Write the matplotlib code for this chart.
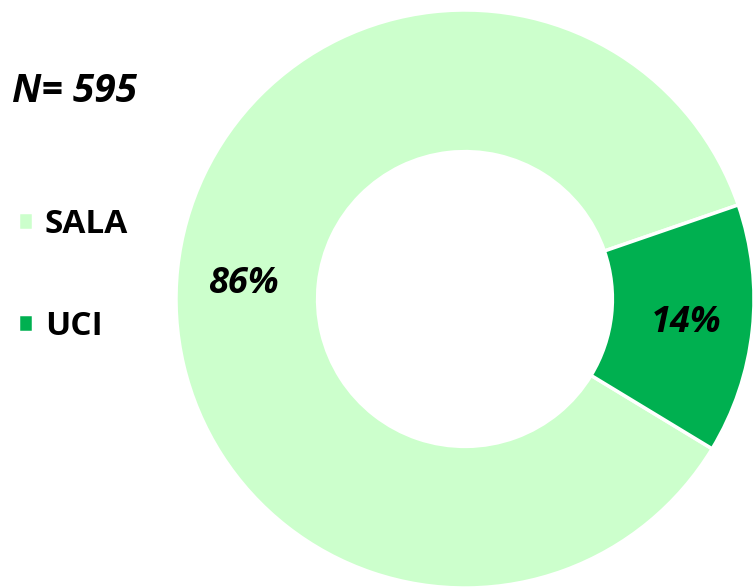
import matplotlib.pyplot as plt

# datos
categorias = ['SALA', 'UCI']
pacientes = [512, 83]
etiquetas = ['86%', '14%']
colores = ['#CCFFCC', '#00B050']
total = 'N= 595'

plt.rcParams['font.family'] = ['Open Sans', 'DejaVu Sans']

fig = plt.figure(figsize=(7.54, 5.88), dpi=100)
ax = fig.add_axes([0.2334, 0.0, 0.7666, 0.983])

wedges, textos = ax.pie(pacientes, labels=etiquetas, colors=colores,
                        startangle=19, counterclock=True,
                        labeldistance=0.77,
                        wedgeprops=dict(width=0.49, edgecolor='white', linewidth=2.5),
                        textprops=dict(fontsize=26, fontweight='bold', fontstyle='italic',
                                       color='black', ha='center', va='center'))
for w in wedges:
    w.set_clip_on(False)
# ajuste fino de la etiqueta grande
x, y = textos[0].get_position()
textos[0].set_position((x, y - 0.03))
ax.set_xlim(-1, 1)
ax.set_ylim(-1, 1)
ax.set_aspect('equal')
ax.axis('off')

fig.text(0.016, 0.845, total, fontsize=28, fontweight='bold', fontstyle='italic',
         ha='left', va='center')

fig.legend(wedges, categorias, loc='center left', bbox_to_anchor=(0.024, 0.532),
           frameon=False, prop=dict(size=24, weight='bold'),
           borderaxespad=0, borderpad=0,
           handlelength=0.45, handleheight=0.45, handletextpad=0.35,
           labelspacing=2.08)

fig.savefig('out.png', dpi=100)
